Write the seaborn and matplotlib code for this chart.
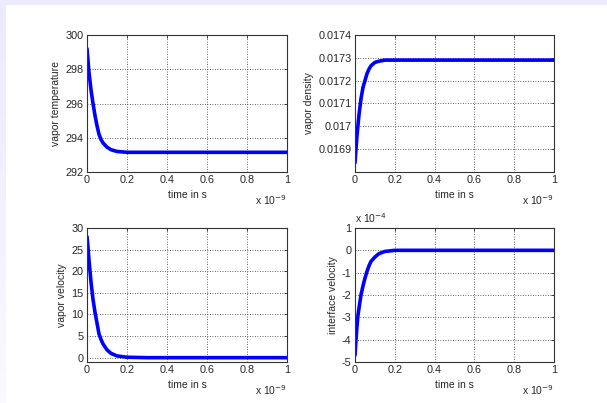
import numpy as np
import pandas as pd
import matplotlib
matplotlib.use("Agg")
import matplotlib.pyplot as plt
import seaborn as sns
from matplotlib.colors import LinearSegmentedColormap

# time in units of 1e-9 s
time_ns = [0, 0.005, 0.01, 0.015, 0.02, 0.03, 0.04, 0.05, 0.06, 0.07, 0.08, 0.1, 0.12, 0.15, 0.2, 0.3, 0.5, 0.75, 1.0]
vapor_temperature = [299.2, 298.5, 297.8, 297.3, 296.8, 296.0, 295.3, 294.7, 294.2, 293.9, 293.7, 293.45, 293.3, 293.2, 293.15, 293.15, 293.15, 293.15, 293.15]
vapor_density = [0.01684, 0.01690, 0.01696, 0.017005, 0.01705, 0.01712, 0.01717, 0.01720, 0.01723, 0.01725, 0.017265, 0.01728, 0.017285, 0.01729, 0.01729, 0.01729, 0.01729, 0.01729, 0.01729]
vapor_velocity = [28.0, 25.5, 22.5, 20.0, 17.5, 13.5, 10.5, 8.0, 5.5, 4.2, 3.2, 1.8, 1.0, 0.4, 0.1, 0.0, 0.0, 0.0, 0.0]
interface_velocity_e4 = [-4.7, -4.0, -3.4, -2.9, -2.6, -2.0, -1.6, -1.25, -0.95, -0.7, -0.5, -0.3, -0.15, -0.05, 0.0, 0.0, 0.0, 0.0, 0.0]

x_ticks = [0, 0.2, 0.4, 0.6, 0.8, 1]
x_ticklabels = ["0", "0.2", "0.4", "0.6", "0.8", "1"]

sns.set_style("white")
plt.rcParams['font.family'] = ['Liberation Sans', 'DejaVu Sans']

fig = plt.figure(figsize=(6.07, 4.03), dpi=100)
fig.patch.set_facecolor("white")

# lavender frame bands
top_band = fig.add_axes([0, 1 - 5 / 403, 1, 5 / 403], zorder=-5)
top_band.set_facecolor("#ebebfb"); top_band.set_xticks([]); top_band.set_yticks([])
for s in top_band.spines.values():
    s.set_visible(False)
left_band = fig.add_axes([0, 0, 6 / 607, 1], zorder=-5)
grad = np.linspace(0, 1, 100).reshape(-1, 1)
cmap = LinearSegmentedColormap.from_list("lav", ["#f9f9fe", "#ebebfb"])
left_band.imshow(grad, aspect="auto", cmap=cmap, origin="lower", extent=[0, 1, 0, 1])
left_band.set_xticks([]); left_band.set_yticks([])
for s in left_band.spines.values():
    s.set_visible(False)

W, H = 607, 403
def pos(l, t, r, b):
    return [l / W, 1 - b / H, (r - l) / W, (b - t) / H]

panels = [
    (pos(87, 35, 287, 172), vapor_temperature, "vapor temperature", (292, 300), [292, 294, 296, 298, 300], ["292", "294", "296", "298", "300"], None),
    (pos(355, 35, 554, 172), vapor_density, "vapor density", (0.0168, 0.0174), [0.0169, 0.017, 0.0171, 0.0172, 0.0173, 0.0174], ["0.0169", "0.017", "0.0171", "0.0172", "0.0173", "0.0174"], None),
    (pos(87, 228, 287, 362), vapor_velocity, "vapor velocity", (-1, 30), [0, 5, 10, 15, 20, 25, 30], ["0", "5", "10", "15", "20", "25", "30"], None),
    (pos(355, 228, 554, 362), interface_velocity_e4, "interface velocity", (-5, 1), [-5, -4, -3, -2, -1, 0, 1], ["-5", "-4", "-3", "-2", "-1", "0", "1"], "x 10$^{-4}$"),
]

tc = "#262626"
for rect, yvals, ylabel, ylim, yt, ytl, yoff in panels:
    ax = fig.add_axes(rect)
    df = pd.DataFrame({"t": time_ns, "v": yvals})
    sns.lineplot(data=df, x="t", y="v", ax=ax, color="#0000ff", linewidth=2.6, estimator=None, sort=False)
    ax.set_xlim(0, 1)
    ax.set_ylim(*ylim)
    ax.set_xticks(x_ticks)
    ax.set_xticklabels(x_ticklabels)
    ax.set_yticks(yt)
    ax.set_yticklabels(ytl)
    ax.grid(True, linestyle=(0, (1, 2)), color="#333333", linewidth=0.6)
    ax.tick_params(direction="in", length=2.5, width=0.6, top=True, right=True,
                   labelsize=7.8, colors=tc, pad=2.5)
    for s in ax.spines.values():
        s.set_linewidth(0.8)
        s.set_color("#333333")
    ax.set_xlabel("time in s", fontsize=7.5, color=tc, labelpad=3)
    ax.set_ylabel(ylabel, fontsize=7.5, color=tc, labelpad=3)
    ax.annotate("x 10$^{-9}$", xy=(1.0, 0.0), xycoords="axes fraction",
                xytext=(0, -33), textcoords="offset pixels", ha="right", va="baseline",
                fontsize=7.5, color=tc)
    if yoff:
        ax.text(0.0, 1.02, yoff, transform=ax.transAxes, ha="left", va="bottom",
                fontsize=7.5, color=tc)

fig.savefig("out.png", dpi=100)
